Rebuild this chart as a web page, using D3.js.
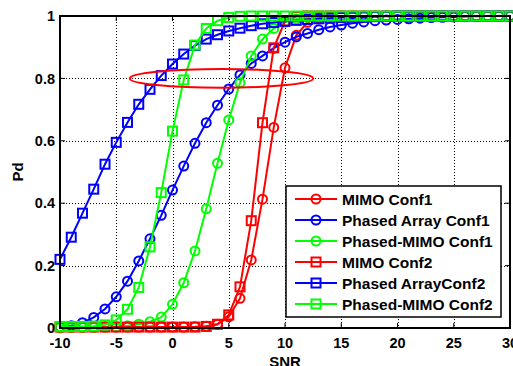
<!DOCTYPE html>
<html>
<head>
<meta charset="utf-8">
<script src="https://cdn.jsdelivr.net/npm/d3@7"></script>
<style>
  body { margin: 0; background: #fff; }
  svg { display: block; font-family: Arial, "Liberation Sans", sans-serif; font-weight: bold; }
</style>
</head>
<body>
<div id="app"></div>
<script>
const WIDTH = 513;
const HEIGHT = 366;
const MARGIN = { top: 16, right: 3, bottom: 38, left: 60 };

// SNR axis, every 1 dB
const snr = [
  -10, -9, -8, -7, -6, -5, -4, -3, -2, -1, 0, 1, 2, 3, 4, 5, 6, 7, 8, 9, 10,
  11, 12, 13, 14, 15, 16, 17, 18, 19, 20, 21, 22, 23, 24, 25, 26, 27, 28, 29, 30,
];

const mimoConf1 = [
  0.003, 0.003, 0.003, 0.003, 0.003, 0.003, 0.003, 0.003, 0.003, 0.003, 0.003,
  0.003, 0.004, 0.006, 0.012, 0.036, 0.095, 0.218, 0.413, 0.643, 0.834,
  0.938, 0.980, 0.994, 0.998, 1, 1, 1, 1, 1, 1, 1, 1, 1, 1, 1, 1, 1, 1, 1, 1,
];
const phasedArrayConf1 = [
  0.004, 0.007, 0.017, 0.034, 0.061, 0.100, 0.150, 0.215, 0.286, 0.361, 0.442,
  0.519, 0.592, 0.658, 0.714, 0.766, 0.811, 0.848, 0.872, 0.897, 0.916,
  0.933, 0.944, 0.956, 0.965, 0.971, 0.977, 0.981, 0.985, 0.987, 0.989,
  0.991, 0.993, 0.995, 0.996, 0.997, 0.998, 0.999, 1, 1, 1,
];
const phasedMimoConf1 = [
  0.000, 0.001, 0.002, 0.002, 0.003, 0.004, 0.007, 0.012, 0.020, 0.035, 0.076,
  0.145, 0.247, 0.382, 0.528, 0.667, 0.786, 0.872, 0.926, 0.960, 0.980,
  0.990, 0.996, 0.998, 1, 1, 1, 1, 1, 1, 1, 1, 1, 1, 1, 1, 1, 1, 1, 1, 1,
];
const mimoConf2 = [
  0.003, 0.003, 0.003, 0.003, 0.003, 0.003, 0.003, 0.003, 0.003, 0.003, 0.003,
  0.003, 0.003, 0.005, 0.012, 0.042, 0.132, 0.344, 0.658, 0.898, 0.984,
  0.998, 1, 1, 1, 1, 1, 1, 1, 1, 1, 1, 1, 1, 1, 1, 1, 1, 1, 1, 1,
];
const phasedArrayConf2 = [
  0.220, 0.291, 0.368, 0.445, 0.525, 0.595, 0.659, 0.717, 0.765, 0.809, 0.846,
  0.878, 0.905, 0.926, 0.940, 0.952, 0.961, 0.969, 0.975, 0.979, 0.983,
  0.986, 0.989, 0.991, 0.993, 0.995, 0.996, 0.997, 0.998, 0.999, 1,
  1, 1, 1, 1, 1, 1, 1, 1, 1, 1,
];
const phasedMimoConf2 = [
  0.005, 0.005, 0.005, 0.006, 0.010, 0.026, 0.060, 0.130, 0.260, 0.434, 0.631,
  0.795, 0.907, 0.960, 0.985, 0.995, 0.999, 1, 1, 1, 1,
  1, 1, 1, 1, 1, 1, 1, 1, 1, 1, 1, 1, 1, 1, 1, 1, 1, 1, 1, 1,
];

const seriesNames = [
  "MIMO Conf1", "Phased Array Conf1", "Phased-MIMO Conf1",
  "MIMO Conf2", "Phased ArrayConf2", "Phased-MIMO Conf2",
];
const seriesValues = [
  mimoConf1, phasedArrayConf1, phasedMimoConf1,
  mimoConf2, phasedArrayConf2, phasedMimoConf2,
];
const seriesColors = ["#ff0000", "#0000ff", "#00ff00", "#ff0000", "#0000ff", "#00ff00"];
const seriesMarkers = ["circle", "circle", "circle", "square", "square", "square"];

const xTicks = [-10, -5, 0, 5, 10, 15, 20, 25, 30];
const yTicks = [0, 0.2, 0.4, 0.6, 0.8, 1];
const yTickLabels = ["0", "0.2", "0.4", "0.6", "0.8", "1"];

// highlighted region around Pd = 0.8 (snr range, pd range)
const ellipseSnr = [-3.8, 12.5];
const ellipsePd = [0.77, 0.83];

const x = d3.scaleLinear().domain([-10, 30]).range([MARGIN.left, WIDTH - MARGIN.right]);
const y = d3.scaleLinear().domain([0, 1]).range([HEIGHT - MARGIN.bottom, MARGIN.top]);

const svg = d3.select("#app").append("svg")
  .attr("width", WIDTH)
  .attr("height", HEIGHT);

svg.append("rect").attr("width", WIDTH).attr("height", HEIGHT).attr("fill", "#fff");

const [x0, x1] = x.range();
const [y0, y1] = y.range();

// dotted grid
const grid = svg.append("g").attr("id", "grid")
  .attr("stroke", "#000").attr("stroke-width", 1).attr("stroke-dasharray", "1,2");
grid.selectAll("line.gx")
  .data(xTicks.slice(1, -1))
  .join("line")
  .attr("class", "gx")
  .attr("x1", (d) => Math.round(x(d)) + 0.5).attr("x2", (d) => Math.round(x(d)) + 0.5)
  .attr("y1", y1).attr("y2", y0);
grid.selectAll("line.gy")
  .data(yTicks.slice(1, -1))
  .join("line")
  .attr("class", "gy")
  .attr("x1", x0).attr("x2", x1)
  .attr("y1", (d) => Math.round(y(d)) + 0.5).attr("y2", (d) => Math.round(y(d)) + 0.5);

// series lines and markers
const line = d3.line().x((d) => x(d[0])).y((d) => y(d[1]));

seriesValues.forEach((values, i) => {
  const pts = snr.map((s, j) => [s, values[j]]);
  const g = svg.append("g").attr("class", "series");
  g.append("path")
    .datum(pts)
    .attr("d", line)
    .attr("fill", "none")
    .attr("stroke", seriesColors[i])
    .attr("stroke-width", 2);
  drawMarkers(g, pts, seriesMarkers[i], seriesColors[i]);
});

function drawMarkers(g, pts, kind, color) {
  if (kind === "circle") {
    g.selectAll("circle")
      .data(pts)
      .join("circle")
      .attr("cx", (d) => x(d[0]))
      .attr("cy", (d) => y(d[1]))
      .attr("r", 4.5)
      .attr("fill", "none")
      .attr("stroke", color)
      .attr("stroke-width", 2);
  } else {
    g.selectAll("rect")
      .data(pts)
      .join("rect")
      .attr("x", (d) => x(d[0]) - 4.5)
      .attr("y", (d) => y(d[1]) - 4.5)
      .attr("width", 9)
      .attr("height", 9)
      .attr("fill", "none")
      .attr("stroke", color)
      .attr("stroke-width", 2);
  }
}

// red ellipse annotation
svg.append("ellipse")
  .attr("cx", (x(ellipseSnr[0]) + x(ellipseSnr[1])) / 2)
  .attr("cy", (y(ellipsePd[0]) + y(ellipsePd[1])) / 2)
  .attr("rx", (x(ellipseSnr[1]) - x(ellipseSnr[0])) / 2)
  .attr("ry", (y(ellipsePd[0]) - y(ellipsePd[1])) / 2)
  .attr("fill", "none")
  .attr("stroke", "#ff0000")
  .attr("stroke-width", 2);

// axes box with inward ticks
const axes = svg.append("g").attr("id", "axes");
axes.append("rect")
  .attr("x", x0).attr("y", y1)
  .attr("width", x1 - x0).attr("height", y0 - y1)
  .attr("fill", "none").attr("stroke", "#000").attr("stroke-width", 2);

const TICK = 5;
axes.selectAll("path.xt")
  .data(xTicks)
  .join("path")
  .attr("class", "xt")
  .attr("d", (d) => `M${x(d)},${y0}v${-TICK}M${x(d)},${y1}v${TICK}`)
  .attr("stroke", "#000").attr("stroke-width", 1);
axes.selectAll("path.yt")
  .data(yTicks)
  .join("path")
  .attr("class", "yt")
  .attr("d", (d) => `M${x0},${y(d)}h${TICK}M${x1},${y(d)}h${-TICK}`)
  .attr("stroke", "#000").attr("stroke-width", 1);

axes.selectAll("text.xl")
  .data(xTicks)
  .join("text")
  .attr("class", "xl")
  .attr("x", (d) => x(d))
  .attr("y", y0 + 20)
  .attr("text-anchor", "middle")
  .attr("font-size", 14.5)
  .text((d) => d);
axes.selectAll("text.yl")
  .data(yTicks)
  .join("text")
  .attr("class", "yl")
  .attr("x", x0 - 5)
  .attr("y", (d) => y(d))
  .attr("dy", "0.36em")
  .attr("text-anchor", "end")
  .attr("font-size", 14.5)
  .text((d, i) => yTickLabels[i]);

svg.append("text")
  .attr("x", (x0 + x1) / 2)
  .attr("y", 367)
  .attr("text-anchor", "middle")
  .attr("font-size", 15)
  .text("SNR");
svg.append("text")
  .attr("transform", `translate(23,${(y0 + y1) / 2}) rotate(-90)`)
  .attr("text-anchor", "middle")
  .attr("font-size", 15)
  .text("Pd");

// legend
const LEG = { x: 286, y: 186, w: 215, h: 131, row: 21 };
const legend = svg.append("g").attr("id", "legend");
legend.append("rect")
  .attr("x", LEG.x).attr("y", LEG.y).attr("width", LEG.w).attr("height", LEG.h)
  .attr("fill", "#fff").attr("stroke", "#000").attr("stroke-width", 1.5);

seriesNames.forEach((name, i) => {
  const cy = LEG.y + 13 + i * LEG.row;
  const g = legend.append("g");
  g.append("line")
    .attr("x1", LEG.x + 9).attr("x2", LEG.x + 51)
    .attr("y1", cy).attr("y2", cy)
    .attr("stroke", seriesColors[i]).attr("stroke-width", 2);
  if (seriesMarkers[i] === "circle") {
    g.append("circle").attr("cx", LEG.x + 30).attr("cy", cy).attr("r", 4.5)
      .attr("fill", "none").attr("stroke", seriesColors[i]).attr("stroke-width", 2);
  } else {
    g.append("rect").attr("x", LEG.x + 25.5).attr("y", cy - 4.5).attr("width", 9).attr("height", 9)
      .attr("fill", "none").attr("stroke", seriesColors[i]).attr("stroke-width", 2);
  }
  g.append("text")
    .attr("x", LEG.x + 56)
    .attr("y", cy)
    .attr("dy", "0.36em")
    .attr("font-size", 15.5)
    .text(name);
});
</script>
</body>
</html>
